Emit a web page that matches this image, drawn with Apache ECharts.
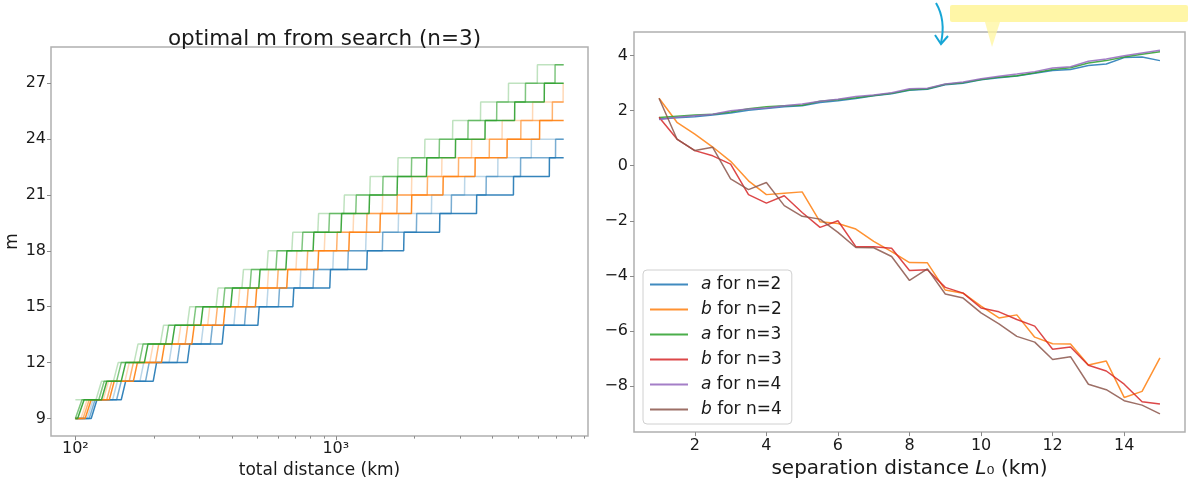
<!DOCTYPE html>
<html>
<head>
<meta charset="utf-8">
<title>optimal m from search / fitted a, b</title>
<script src="https://cdn.jsdelivr.net/npm/echarts@6/dist/echarts.min.js"></script>
<style>
  html, body { margin: 0; padding: 0; background: #fff; }
  #chart { width: 1188px; height: 484px; }
</style>
</head>
<body>
<div id="chart"></div>
<script>
// ---------- left panel: optimal m vs total distance (n=3) ----------
// every run starts at 100 km; the arrays hold the distances (km) where m goes up by one
const distStart = 100;
const distEnd = 7500;
const gridStep = 6; // spacing of the distance grid of the search (km)

const startG1 = 10, stepsG1 = [120, 140, 168, 212, 269, 347, 436, 544, 678, 853, 1073, 1350, 1728, 2193, 2807, 3594, 4600, 5940];
const startG2 = 9,  stepsG2 = [100, 123, 144, 176, 222, 284, 369, 468, 589, 741, 940, 1193, 1513, 1950, 2494, 3216, 4146, 5346, 6947];
const startG3 = 9,  stepsG3 = [102, 126, 150, 184, 235, 303, 395, 506, 643, 818, 1047, 1342, 1719, 2230, 2878, 3740, 4860, 6316];
const startO1 = 9,  stepsO1 = [105, 128, 155, 193, 248, 322, 422, 546, 703, 903, 1165, 1508, 1952, 2550, 3320, 4349, 5696, 7462];
const startO2 = 9,  stepsO2 = [107, 132, 161, 203, 264, 345, 455, 595, 774, 1007, 1312, 1716, 2244, 2956, 3884, 5133, 6783];
const startO3 = 9,  stepsO3 = [109, 135, 167, 214, 280, 370, 491, 648, 853, 1122, 1477, 1952, 2579, 3424, 4545, 6060];
const startB1 = 9,  stepsB1 = [111, 139, 177, 229, 304, 406, 543, 728, 974, 1302, 1736, 2329, 3121, 4187, 5632];
const startB2 = 9,  stepsB2 = [113, 144, 186, 246, 330, 446, 602, 818, 1111, 1509, 2039, 2775, 3776, 5120, 6978];
const startB3 = 9,  stepsB3 = [115, 150, 199, 269, 366, 502, 684, 948, 1315, 1822, 2503, 3470, 4809, 6606];

const mTicks = [9, 12, 15, 18, 21, 24, 27];
const distTicks = [100, 1000];
const distMinorTicks = [200, 300, 400, 500, 600, 700, 800, 900, 2000, 3000, 4000, 5000, 6000, 7000, 8000, 9000];

// ---------- right panel: a and b vs separation distance ----------
const sepDist = [1, 1.5, 2, 2.5, 3, 3.5, 4, 4.5, 5, 5.5, 6, 6.5, 7, 7.5, 8, 8.5, 9, 9.5, 10, 10.5, 11, 11.5, 12, 12.5, 13, 13.5, 14, 14.5, 15];
const aN2 = [1.70, 1.74, 1.78, 1.84, 1.92, 2.02, 2.08, 2.14, 2.18, 2.30, 2.36, 2.44, 2.54, 2.62, 2.74, 2.78, 2.94, 3.00, 3.12, 3.20, 3.26, 3.36, 3.46, 3.50, 3.64, 3.70, 3.93, 3.95, 3.82];
const bN2 = [2.45, 1.58, 1.15, 0.68, 0.16, -0.55, -1.05, -1.00, -0.95, -2.04, -2.10, -2.30, -2.75, -3.12, -3.52, -3.53, -4.52, -4.63, -5.10, -5.53, -5.42, -6.23, -6.47, -6.48, -7.24, -7.10, -8.42, -8.20, -6.98];
const aN3 = [1.75, 1.80, 1.84, 1.87, 1.95, 2.07, 2.14, 2.18, 2.20, 2.34, 2.40, 2.47, 2.55, 2.63, 2.76, 2.80, 2.96, 3.02, 3.13, 3.22, 3.27, 3.38, 3.50, 3.56, 3.73, 3.82, 3.95, 4.05, 4.14];
const bN3 = [1.76, 0.97, 0.55, 0.36, 0.06, -1.05, -1.36, -1.09, -1.70, -2.24, -2.00, -2.94, -2.94, -3.00, -3.81, -3.78, -4.42, -4.63, -5.17, -5.31, -5.59, -5.83, -6.67, -6.59, -7.25, -7.46, -7.94, -8.58, -8.66];
const aN4 = [1.68, 1.76, 1.82, 1.87, 2.00, 2.06, 2.10, 2.18, 2.24, 2.34, 2.42, 2.52, 2.57, 2.65, 2.80, 2.82, 2.97, 3.04, 3.16, 3.25, 3.33, 3.42, 3.55, 3.60, 3.80, 3.88, 4.00, 4.10, 4.20];
const bN4 = [2.45, 0.97, 0.55, 0.67, -0.48, -0.87, -0.61, -1.45, -1.84, -1.94, -2.42, -2.97, -2.98, -3.30, -4.17, -3.75, -4.66, -4.81, -5.35, -5.75, -6.20, -6.41, -7.04, -6.94, -7.94, -8.14, -8.54, -8.70, -9.02];

const sepTicks = [2, 4, 6, 8, 10, 12, 14];
const coefTicks = [-8, -6, -4, -2, 0, 2, 4];

// ---------- build ----------
const FONT = 'DejaVu Sans';
const TXT = '#1a1a1a';
const FRAME = '#b0b0b0';
const TICK = '#8a8a8a';

function stepLine(m0, steps) {
  const pts = [[distStart, m0]];
  steps.forEach((d, k) => {
    pts.push([d, m0 + k], [d + gridStep, m0 + k + 1]);
  });
  pts.push([distEnd, m0 + steps.length]);
  return pts;
}

const leftRuns = [
  ['#1f77b4', 0.3, startB1, stepsB1], ['#1f77b4', 0.6, startB2, stepsB2], ['#1f77b4', 0.9, startB3, stepsB3],
  ['#ff7f0e', 0.3, startO1, stepsO1], ['#ff7f0e', 0.6, startO2, stepsO2], ['#ff7f0e', 0.9, startO3, stepsO3],
  ['#2ca02c', 0.3, startG1, stepsG1], ['#2ca02c', 0.6, startG2, stepsG2], ['#2ca02c', 0.9, startG3, stepsG3]
];

const leftSeries = leftRuns.map(([c, op, m0, steps]) => ({
  type: 'line', xAxisIndex: 0, yAxisIndex: 0,
  data: stepLine(m0, steps), symbol: 'none', silent: true,
  lineStyle: { color: c, width: 1.5, opacity: op }
}));

const rightDefs = [
  ['a for n=2', '#1f77b4', aN2], ['b for n=2', '#ff7f0e', bN2],
  ['a for n=3', '#2ca02c', aN3], ['b for n=3', '#d62728', bN3],
  ['a for n=4', '#9467bd', aN4], ['b for n=4', '#8c564b', bN4]
];
const rightSeries = rightDefs.map(([name, c, vals]) => ({
  name, type: 'line', xAxisIndex: 2, yAxisIndex: 1,
  data: sepDist.map((x, i) => [x, vals[i]]),
  symbol: 'none', color: c,
  itemStyle: { color: c, opacity: 0.85 },
  lineStyle: { color: c, width: 1.5, opacity: 0.85 }
}));

const sup = { 2: '\u00b2', 3: '\u00b3' };
const minus = v => (v < 0 ? '\u2212' + (-v) : String(v));

const chart = echarts.init(document.getElementById('chart'), null, { renderer: 'canvas' });
chart.setOption({
  animation: false,
  backgroundColor: '#fff',
  textStyle: { fontFamily: FONT, color: TXT },
  title: {
    text: 'optimal m from search (n=3)',
    left: 319.5, top: 23, textAlign: 'center',
    textStyle: { fontFamily: FONT, fontSize: 21.5, fontWeight: 'normal', color: TXT }
  },
  grid: [
    { left: 51, top: 47, width: 537, height: 393, show: true, borderColor: FRAME, borderWidth: 1.5, backgroundColor: '#fff' },
    { left: 634, top: 32, width: 551, height: 404, show: true, borderColor: FRAME, borderWidth: 1.5, backgroundColor: '#fff' }
  ],
  legend: {
    data: rightDefs.map(d => d[0]),
    orient: 'vertical', left: 643, top: 270,
    padding: [6, 10, 6, 7],
    icon: 'rect', itemWidth: 38, itemHeight: 2, itemGap: 8,
    backgroundColor: 'rgba(255,255,255,0.85)', borderColor: '#d0d0d0', borderWidth: 1, borderRadius: 4,
    formatter: name => '{i|' + name[0] + '}{t|' + name.slice(1) + '}',
    textStyle: {
      padding: [0, 0, 0, 8],
      rich: {
        i: { fontFamily: FONT, fontSize: 17, lineHeight: 17, fontStyle: 'italic', color: TXT },
        t: { fontFamily: FONT, fontSize: 17, lineHeight: 17, color: TXT }
      }
    }
  },
  xAxis: [
    {
      gridIndex: 0, type: 'log', logBase: 10, min: 80.6, max: 9300,
      name: 'total distance (km)', nameLocation: 'middle', nameGap: 20,
      nameTextStyle: { fontFamily: FONT, fontSize: 17, color: TXT },
      axisLine: { show: false, onZero: false },
      axisTick: { show: true, length: 4, customValues: distTicks, lineStyle: { color: TICK } },
      axisLabel: { customValues: distTicks, margin: 5, fontSize: 16, color: TXT, formatter: v => '10' + sup[Math.round(Math.log10(v))] },
      splitLine: { show: false }
    },
    {
      gridIndex: 0, type: 'log', logBase: 10, min: 80.6, max: 9300, position: 'bottom',
      axisLine: { show: false, onZero: false },
      axisTick: { show: true, length: 2.5, customValues: distMinorTicks, lineStyle: { color: TICK } },
      axisLabel: { show: false },
      splitLine: { show: false }
    },
    {
      gridIndex: 1, type: 'value', min: 0.3, max: 15.7,
      name: '{n|separation distance }{i|L}{n|\u2080 (km)}', nameLocation: 'middle', nameGap: 24,
      nameTextStyle: {
        rich: {
          n: { fontFamily: FONT, fontSize: 20, color: TXT },
          i: { fontFamily: FONT, fontSize: 20, fontStyle: 'italic', color: TXT }
        }
      },
      axisLine: { show: false, onZero: false },
      axisTick: { show: true, length: 4, customValues: sepTicks, lineStyle: { color: TICK } },
      axisLabel: { customValues: sepTicks, margin: 6, fontSize: 16, color: TXT },
      splitLine: { show: false }
    }
  ],
  yAxis: [
    {
      gridIndex: 0, type: 'value', min: 8.05, max: 28.95,
      name: 'm', nameLocation: 'middle', nameGap: 30,
      nameTextStyle: { fontFamily: FONT, fontSize: 17, color: TXT },
      axisLine: { show: false, onZero: false },
      axisTick: { show: true, length: 4, customValues: mTicks, lineStyle: { color: TICK } },
      axisLabel: { customValues: mTicks, margin: 5, fontSize: 16, color: TXT },
      splitLine: { show: false }
    },
    {
      gridIndex: 1, type: 'value', min: -9.68, max: 4.86,
      axisLine: { show: false, onZero: false },
      axisTick: { show: true, length: 4, customValues: coefTicks, lineStyle: { color: TICK } },
      axisLabel: { customValues: coefTicks, margin: 6, fontSize: 16, color: TXT, formatter: minus },
      splitLine: { show: false }
    }
  ],
  graphic: [
    { type: 'rect', shape: { x: 950, y: 5, width: 238, height: 17, r: 2 }, style: { fill: '#fff59d', opacity: 0.9 }, z: 100 },
    { type: 'polygon', shape: { points: [[985, 22], [1000, 22], [992, 47]] }, style: { fill: '#fff59d', opacity: 0.75 }, z: 100 },
    { type: 'bezierCurve', shape: { x1: 936, y1: 3, cpx1: 946, cpy1: 20, x2: 941, y2: 43 }, style: { stroke: '#17a6d6', lineWidth: 2, fill: null }, z: 100 },
    { type: 'polyline', shape: { points: [[935, 35], [941, 44], [948, 36]] }, style: { stroke: '#17a6d6', lineWidth: 2, fill: null }, z: 100 }
  ],
  series: leftSeries.concat(rightSeries)
});
</script>
</body>
</html>
